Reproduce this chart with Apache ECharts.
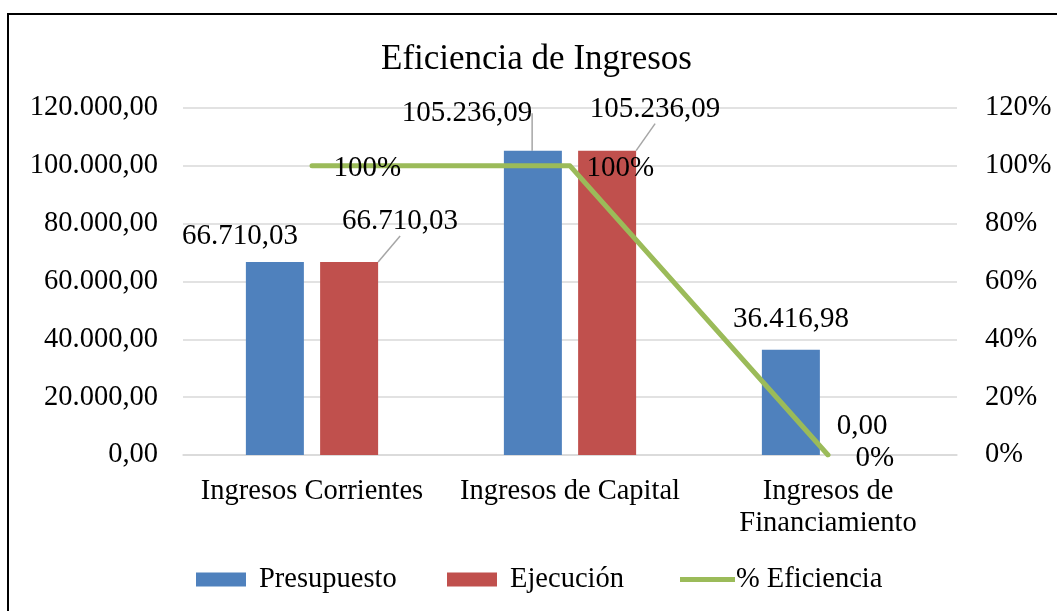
<!DOCTYPE html>
<html>
<head>
<meta charset="utf-8">
<title>Eficiencia de Ingresos</title>
<script src="https://cdn.jsdelivr.net/npm/echarts@6/dist/echarts.min.js"></script>
<style>
  html, body { margin: 0; padding: 0; background: #fff; }
  #chart { width: 1057px; height: 611px; }
</style>
</head>
<body>
<div id="chart"></div>
<script>
const categories = ['Ingresos Corrientes', 'Ingresos de Capital', 'Ingresos de\nFinanciamiento']
const presupuesto = [66710.03, 105236.09, 36416.98]
const ejecucion = [66710.03, 105236.09, 0]
const eficiencia = [1, 1, 0]

const leftTicks = { min: 0, max: 120000, interval: 20000 }
const rightTicks = { min: 0, max: 1.2, interval: 0.2 }

const FONT = "'Liberation Serif', 'Times New Roman', serif"
const BLUE = '#4F81BD'
const RED = '#C0504D'
const GREEN = '#9BBB59'
const GRID = '#D9D9D9'

// 12345.6 -> "12.345,60"
function fmtEs(v) {
  const [int, dec] = Number(v).toFixed(2).split('.')
  return int.replace(/\B(?=(\d{3})+(?!\d))/g, '.') + ',' + dec
}

// manual label nudges, like the dragged labels in the original
const presOffsets = [[-35, -6], [-66, -18], [0, -11]]
const ejecOffsets = [[51, -21], [48, -22], [-3, -9]]
const presLines = [false, true, false]
const ejecLines = [true, true, false]
const pctOffsets = [0, -5, 6]

const chart = echarts.init(document.getElementById('chart'))

const labelStyle = { fontFamily: FONT, fontSize: 29, color: '#000' }
const legendText = { fontFamily: FONT, fontSize: 28.5, color: '#000' }

chart.setOption({
  backgroundColor: '#fff',
  animation: false,
  title: {
    text: 'Eficiencia de Ingresos',
    left: 376,
    top: 37,
    textStyle: { fontFamily: FONT, fontSize: 35, fontWeight: 'normal', color: '#000' },
  },
  grid: { left: 183, right: 100, top: 108, bottom: 156 },
  legend: [
    {
      data: ['Presupuesto'], left: 196, top: 565, padding: 0, icon: 'rect',
      itemWidth: 50, itemHeight: 14,
      textStyle: { ...legendText, padding: [0, 0, 0, 8] },
    },
    {
      data: ['Ejecución'], left: 447, top: 565, padding: 0, icon: 'rect',
      itemWidth: 50, itemHeight: 14,
      textStyle: { ...legendText, padding: [0, 0, 0, 8] },
    },
    {
      data: ['% Eficiencia'], left: 680, top: 565, padding: 0,
      icon: 'path://M0,0 L55,0 L55,5 L0,5 Z',
      itemWidth: 55, itemHeight: 5,
      textStyle: { ...legendText, padding: [0, 0, 0, -4] },
    },
  ],
  xAxis: {
    type: 'category',
    data: categories,
    axisTick: { show: false },
    axisLine: { lineStyle: { color: GRID, width: 1.5 } },
    axisLabel: { fontFamily: FONT, fontSize: 28.5, color: '#000', margin: 21, lineHeight: 32, interval: 0 },
  },
  yAxis: [
    {
      type: 'value',
      ...leftTicks,
      axisLine: { show: false },
      axisTick: { show: false },
      splitLine: { lineStyle: { color: GRID, width: 1.5 } },
      axisLabel: { fontFamily: FONT, fontSize: 28.5, color: '#000', margin: 25, formatter: fmtEs },
    },
    {
      type: 'value',
      ...rightTicks,
      axisLine: { show: false },
      axisTick: { show: false },
      splitLine: { show: false },
      axisLabel: {
        fontFamily: FONT, fontSize: 28.5, color: '#000', margin: 28,
        formatter: (v) => Math.round(v * 100) + '%',
      },
    },
  ],
  series: [
    {
      name: 'Presupuesto',
      type: 'bar',
      data: presupuesto.map((v, i) => ({ value: v, labelLine: { show: presLines[i] } })),
      barWidth: 58,
      barGap: '28%',
      itemStyle: { color: BLUE },
      label: { show: true, position: 'top', ...labelStyle, formatter: (p) => fmtEs(p.value) },
      labelLine: { lineStyle: { color: '#A6A6A6', width: 1.5 } },
      labelLayout: (p) => ({ dx: presOffsets[p.dataIndex][0], dy: presOffsets[p.dataIndex][1] }),
    },
    {
      name: 'Ejecución',
      type: 'bar',
      data: ejecucion.map((v, i) => ({ value: v, labelLine: { show: ejecLines[i] } })),
      barWidth: 58,
      itemStyle: { color: RED },
      label: { show: true, position: 'top', ...labelStyle, formatter: (p) => fmtEs(p.value) },
      labelLine: { lineStyle: { color: '#A6A6A6', width: 1.5 } },
      labelLayout: (p) => ({ dx: ejecOffsets[p.dataIndex][0], dy: ejecOffsets[p.dataIndex][1] }),
    },
    {
      name: '% Eficiencia',
      type: 'line',
      yAxisIndex: 1,
      data: eficiencia,
      symbol: 'circle',
      symbolSize: 1,
      showSymbol: true,
      lineStyle: { color: GREEN, width: 5, cap: 'round', join: 'round' },
      itemStyle: { color: GREEN },
      label: {
        show: true, position: 'right', distance: 21, ...labelStyle,
        formatter: (p) => Math.round(p.value * 100) + '%',
      },
      labelLayout: (p) => ({ dy: 3, dx: pctOffsets[p.dataIndex] }),
    },
  ],
  graphic: [
    {
      type: 'rect',
      shape: { x: 8, y: 14, width: 1100, height: 700 },
      style: { fill: 'none', stroke: '#000', lineWidth: 2 },
      silent: true,
    },
  ],
})
</script>
</body>
</html>
